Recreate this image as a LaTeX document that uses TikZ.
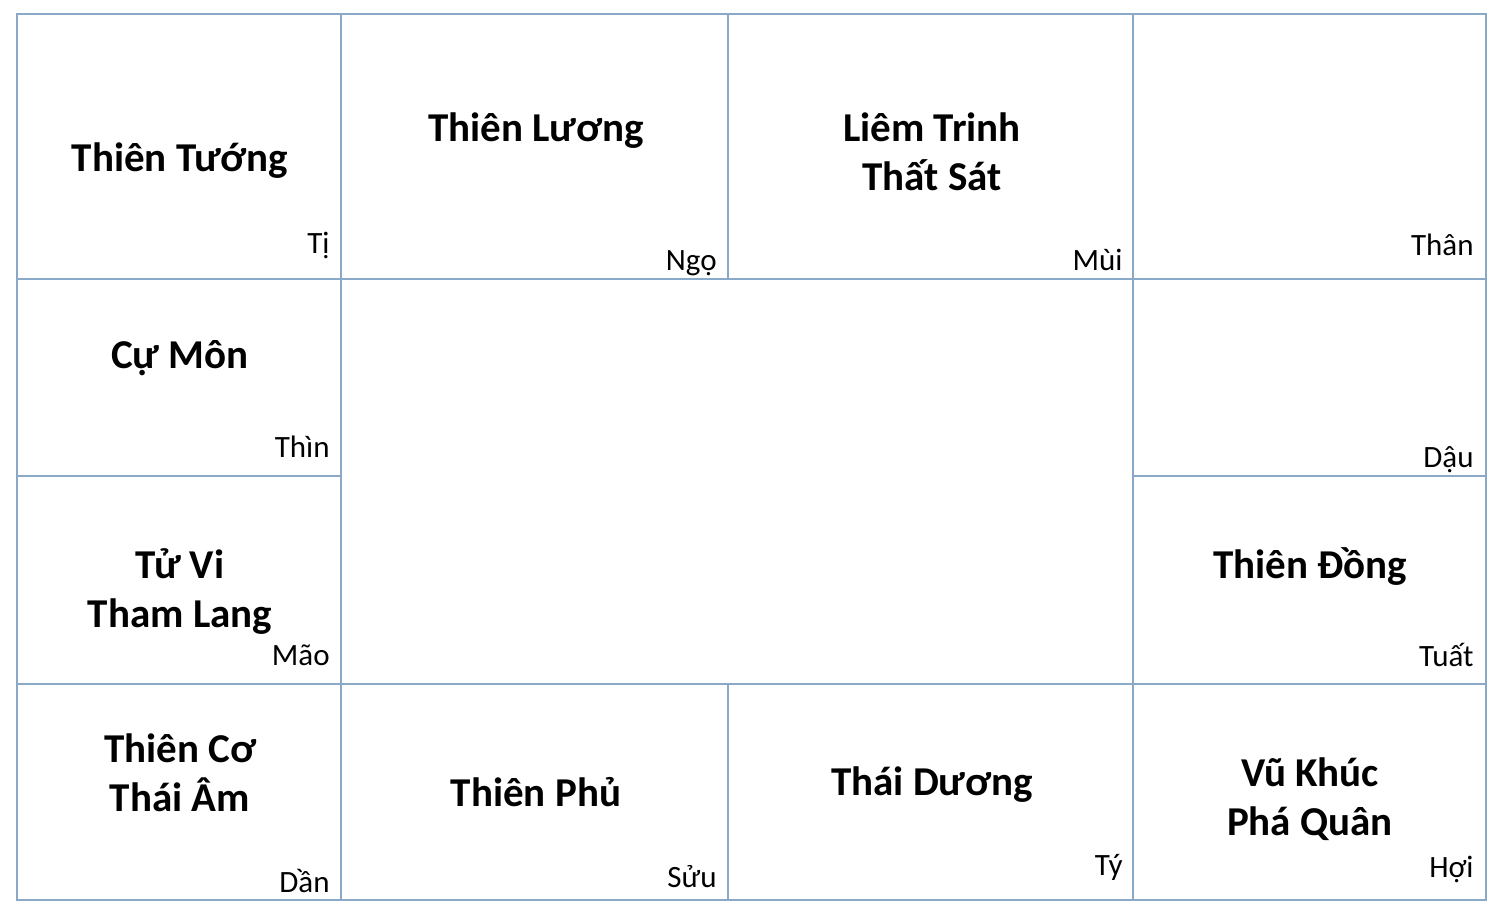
\documentclass[tikz,border=0pt]{standalone}
\usepackage{fontspec}
\setmainfont{Carlito}
\usepackage{tikz}
\definecolor{gridblue}{HTML}{8AA8C8}
\tikzstyle{grid} = [draw=gridblue, line width=0.6pt]
\tikzstyle{sao} = [
    anchor=base, align=center, inner sep=0pt,
    font=\fontsize{20.5}{24.5}\selectfont\bfseries
]
\tikzstyle{cung} = [anchor=base east, inner sep=0pt,
    font=\fontsize{15.5}{18}\selectfont]

\begin{document}
\begin{tikzpicture}[x=0.5pt, y=-0.5pt]
        \useasboundingbox (0,0) rectangle (1501,916);
        % the twelve houses
        \draw [grid] (17,14) rectangle (1486,900);
        \draw [grid] (17,279) -- (1486,279);
        \draw [grid] (17,684) -- (1486,684);
        \draw [grid] (17,476) -- (341,476);
        \draw [grid] (1133,476) -- (1486,476);
        \draw [grid] (341,14) -- (341,900);
        \draw [grid] (1133,14) -- (1133,900);
        \draw [grid] (728,14) -- (728,279);
        \draw [grid] (728,684) -- (728,900);

        % top row (two-line names sit on their last line)
        \node (ti) [sao] at (180,171) {Thiên Tướng};
        \node (ti_c) [cung] at (330,253) {Tị};
        \node (ngo) [sao] at (536,141) {Thiên Lương};
        \node (ngo_c) [cung] at (717,270) {Ngọ};
        \node (mui) [sao] at (932,190) {Liêm Trinh\\Thất Sát};
        \node (mui_c) [cung] at (1123,270) {Mùi};
        \node (than_c) [cung] at (1474,255) {Thân};

        % sides
        \node (thin) [sao] at (180,368) {Cự Môn};
        \node (thin_c) [cung] at (330,457) {Thìn};
        \node (dau_c) [cung] at (1474,467) {Dậu};
        \node (mao) [sao] at (180,627) {Tử Vi\\Tham Lang};
        \node (mao_c) [cung] at (330,665) {Mão};
        \node (tuat) [sao] at (1310,578) {Thiên Đồng};
        \node (tuat_c) [cung] at (1474,666) {Tuất};

        % bottom row
        \node (dan) [sao] at (180,811) {Thiên Cơ\\Thái Âm};
        \node (dan_c) [cung] at (330,892) {Dần};
        \node (suu) [sao] at (536,806) {Thiên Phủ};
        \node (suu_c) [cung] at (717,887) {Sửu};
        \node (ty) [sao] at (932,795) {Thái Dương};
        \node (ty_c) [cung] at (1123,875) {Tý};
        \node (hoi) [sao] at (1310,835) {Vũ Khúc\\Phá Quân};
        \node (hoi_c) [cung] at (1474,877) {Hợi};
    \end{tikzpicture}
\end{document}
